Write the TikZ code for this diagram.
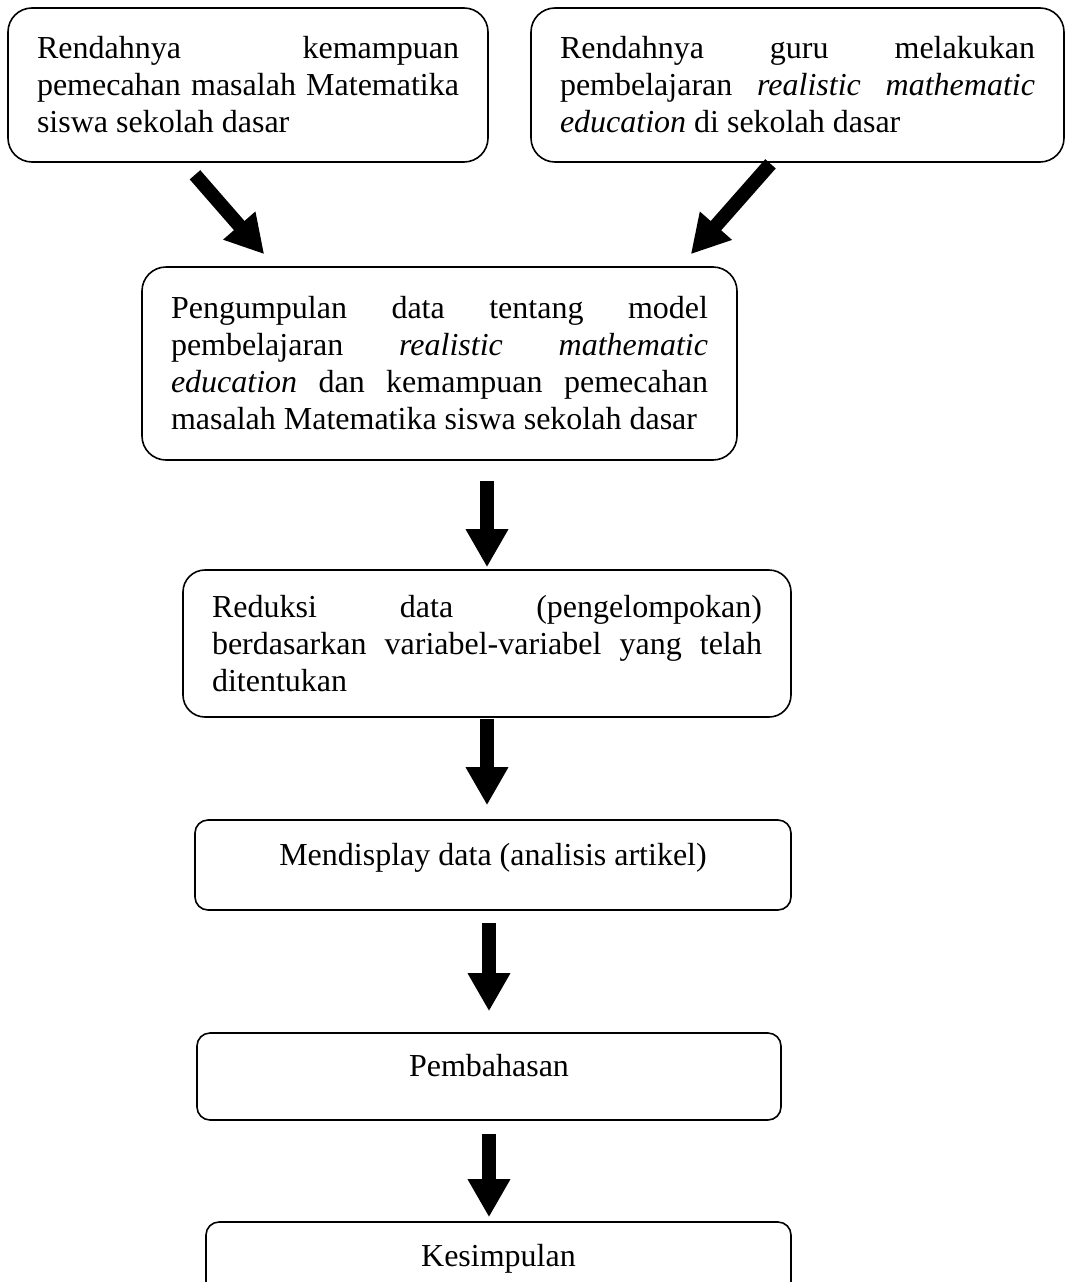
\documentclass[tikz,border=0pt]{standalone}
\usepackage{fontspec}
\setmainfont{Liberation Serif}
\usepackage{tikz}
\usetikzlibrary{positioning,arrows.meta}
\hyphenpenalty=10000
\exhyphenpenalty=10000
\tolerance=9999
\tikzstyle{textbox} = [rectangle, rounded corners=24pt, draw=black, line width=1.6pt, align=justify, inner xsep=29pt, font=\fontsize{32}{37}\selectfont]
\tikzstyle{linebox} = [rectangle, rounded corners=13pt, draw=black, line width=1.6pt, align=center, text height=20pt, text depth=20pt, font=\fontsize{32}{37}\selectfont]
\tikzstyle{fatarrow} = [line width=14pt, -{Triangle[length=38pt,width=40pt]}]

\begin{document}
\begin{tikzpicture}[x=1pt,y=-1pt]
\useasboundingbox (0,0) rectangle (1066,1282);
%
\node (low_skill) [textbox, text width=422pt, minimum height=154pt] at (248,85) {Rendahnya kemampuan pemecahan masalah Matematika siswa sekolah dasar};
\node (low_rme) [textbox, text width=475pt, minimum height=154pt] at (797.5,85) {Rendahnya guru melakukan pembelajaran \textit{realistic mathematic education} di sekolah dasar};
\node (collect) [textbox, text width=537pt, minimum height=193pt] at (439.5,363.5) {Pengumpulan data tentang model pembelajaran \textit{realistic mathematic education} dan kemampuan pemecahan masalah Matematika siswa sekolah dasar};
\node (reduce) [textbox, rounded corners=22pt, text width=550pt, minimum height=147pt] at (487,643.5) {Reduksi data (pengelompokan) berdasarkan variabel-variabel yang telah ditentukan};
\node (display) [linebox, minimum width=596pt, minimum height=90pt] at (493,865) {Mendisplay data (analisis artikel)};
\node (discuss) [linebox, minimum width=584pt, minimum height=87pt] at (489,1076.5) {Pembahasan};
\node (conclude) [linebox, minimum width=585pt, minimum height=88pt] at (498.5,1266) {Kesimpulan};
%
\draw [fatarrow] ([xshift=-53pt,yshift=-12pt]low_skill.south) -- ([xshift=123pt,yshift=12pt]collect.north west);
\draw [fatarrow] ([xshift=-27pt,yshift=-1pt]low_rme.south) -- ([xshift=-47pt,yshift=12pt]collect.north east);
\draw [fatarrow, shorten <=20pt, shorten >=2pt] (collect.south -| reduce.north) -- (reduce.north);
\draw [fatarrow, shorten <=1pt, shorten >=14pt] (reduce.south) -- (reduce.south |- display.north);
\draw [fatarrow, shorten <=12pt, shorten >=21pt] (display.south -| discuss.north) -- (discuss.north);
\draw [fatarrow, shorten <=13pt, shorten >=4pt] (discuss.south) -- (discuss.south |- conclude.north);
%
\end{tikzpicture}
\end{document}
